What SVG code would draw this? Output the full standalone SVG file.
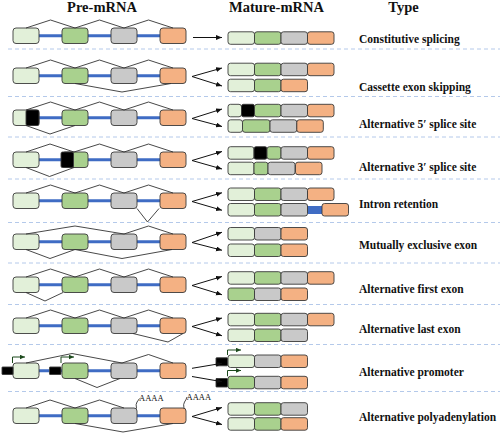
<svg xmlns="http://www.w3.org/2000/svg" width="500" height="433" viewBox="0 0 500 433">
<style>
rect{stroke:#3a3a3a;stroke-width:0.9}
.a{fill:#e2f0d9}.b{fill:#a9d18e}.c{fill:#c9c9c9}.d{fill:#f4b183}.k{fill:#000}.i{fill:#3f6cc4;stroke:none}
.ln{stroke:#3f6cc4;stroke-width:3}
.sp{fill:none;stroke:#333;stroke-width:0.9;stroke-linejoin:miter}
.sep{stroke:#b4c9ea;stroke-width:1;stroke-dasharray:4 3}
.ar{fill:none;stroke:#111;stroke-width:1;marker-end:url(#ah)}
.pr{fill:none;stroke:#1d4a1d;stroke-width:1;marker-end:url(#gh)}
.h{font-family:"Liberation Serif",serif;font-weight:bold;font-size:14.5px;text-anchor:middle;fill:#111}
.t{font-family:"Liberation Serif",serif;font-weight:bold;font-size:11.5px;fill:#111}
.pa{font-family:"Liberation Serif",serif;font-size:8.5px;fill:#111}
</style>
<defs>
<marker id="ah" markerUnits="userSpaceOnUse" markerWidth="7" markerHeight="6" refX="6" refY="2.5" orient="auto"><path d="M0,0 L6,2.5 L0,5 z" fill="#111"/></marker>
<marker id="gh" markerUnits="userSpaceOnUse" markerWidth="7" markerHeight="6" refX="5" refY="2.25" orient="auto"><path d="M0,0 L5,2.25 L0,4.5 z" fill="#1d4a1d"/></marker>
<symbol id="pre" overflow="visible">
<line class="ln" x1="39" y1="7.75" x2="160" y2="7.75"/>
<rect class="a" x="13" y="0" width="26" height="15.5" rx="3"/>
<rect class="b" x="62" y="0" width="26" height="15.5" rx="3"/>
<rect class="c" x="111" y="0" width="26" height="15.5" rx="3"/>
<rect class="d" x="160" y="0" width="26" height="15.5" rx="3"/>
</symbol>
</defs>
<g id="headers">
<text class="h" x="102" y="12">Pre-mRNA</text>
<text class="h" x="276.5" y="12">Mature-mRNA</text>
<text class="h" x="403.5" y="12">Type</text>
</g>
<g id="separators">
<line class="sep" x1="8" y1="49" x2="500" y2="49"/>
<line class="sep" x1="8" y1="96.5" x2="500" y2="96.5"/>
<line class="sep" x1="8" y1="137" x2="500" y2="137"/>
<line class="sep" x1="8" y1="179" x2="500" y2="179"/>
<line class="sep" x1="8" y1="222.5" x2="500" y2="222.5"/>
<line class="sep" x1="8" y1="263" x2="500" y2="263"/>
<line class="sep" x1="8" y1="304.5" x2="500" y2="304.5"/>
<line class="sep" x1="8" y1="344.5" x2="500" y2="344.5"/>
<line class="sep" x1="8" y1="391.5" x2="500" y2="391.5"/>
</g>

<g id="row1">
<use href="#pre" x="0" y="28"/>
<path class="sp" d="M26,28 L50.5,20 L75,28 L99.5,20 L124,28 L148.5,20 L173,28"/>
<rect class="a" x="228" y="31.8" width="26.5" height="12.5" rx="2.5"/><rect class="b" x="254.5" y="31.8" width="26.5" height="12.5" rx="2.5"/><rect class="c" x="281" y="31.8" width="26.5" height="12.5" rx="2.5"/><rect class="d" x="307.5" y="31.8" width="26.5" height="12.5" rx="2.5"/>
<text class="t" x="359" y="42.7">Constitutive splicing</text>
</g>

<g id="row2">
<use href="#pre" x="0" y="68"/>
<path class="sp" d="M26,68 L50.5,60 L75,68 L99.5,60 L124,68 L148.5,60 L173,68 M75,83.5 L122,92 L171,83.5"/>
<rect class="a" x="228" y="63.2" width="26.5" height="12.5" rx="2.5"/><rect class="b" x="254.5" y="63.2" width="26.5" height="12.5" rx="2.5"/><rect class="c" x="281" y="63.2" width="26.5" height="12.5" rx="2.5"/><rect class="d" x="307.5" y="63.2" width="26.5" height="12.5" rx="2.5"/>
<rect class="a" x="228" y="79.2" width="26.5" height="12.5" rx="2.5"/><rect class="b" x="254.5" y="79.2" width="26.5" height="12.5" rx="2.5"/><rect class="d" x="281" y="79.2" width="26.5" height="12.5" rx="2.5"/>
<text class="t" x="359" y="90.7">Cassette exon skipping</text>
</g>

<g id="row3">
<use href="#pre" x="0" y="110"/>
<rect class="k" x="26" y="110" width="13" height="15.5" rx="1.5"/>
<path class="sp" d="M26,110 L50.5,102 L75,110 L99.5,102 L124,110 L148.5,102 L173,110 M26,125.5 L50,134 L75,125.5"/>
<rect class="a" x="228" y="104.3" width="13.5" height="12.5" rx="2.5"/><rect class="k" x="241.5" y="104.3" width="13" height="12.5" rx="2"/><rect class="b" x="254.5" y="104.3" width="26.5" height="12.5" rx="2.5"/><rect class="c" x="281" y="104.3" width="26.5" height="12.5" rx="2.5"/><rect class="d" x="307.5" y="104.3" width="26.5" height="12.5" rx="2.5"/>
<rect class="a" x="228" y="119.8" width="14.5" height="12.5" rx="2.5"/><rect class="b" x="242.5" y="119.8" width="27.5" height="12.5" rx="2.5"/><rect class="c" x="270" y="119.8" width="26.8" height="12.5" rx="2.5"/><rect class="d" x="296.8" y="119.8" width="26.5" height="12.5" rx="2.5"/>
<text class="t" x="359" y="128.3">Alternative 5′ splice site</text>
</g>

<g id="row4">
<use href="#pre" x="0" y="152"/>
<rect class="k" x="61" y="152" width="12.5" height="15.5" rx="1.5"/>
<path class="sp" d="M26,152 L50,144 L74,152 L99.5,144 L124,152 L148.5,144 L173,152 M26,167.5 L49.5,176.5 L74,167.5"/>
<rect class="a" x="228" y="146.7" width="26" height="12.5" rx="2.5"/><rect class="k" x="254" y="146.7" width="13" height="12.5" rx="2"/><rect class="b" x="267" y="146.7" width="14" height="12.5" rx="2.5"/><rect class="c" x="281" y="146.7" width="26.5" height="12.5" rx="2.5"/><rect class="d" x="307.5" y="146.7" width="26.5" height="12.5" rx="2.5"/>
<rect class="a" x="228" y="162.2" width="26" height="12.5" rx="2.5"/><rect class="b" x="254" y="162.2" width="14" height="12.5" rx="2.5"/><rect class="c" x="268" y="162.2" width="27" height="12.5" rx="2.5"/><rect class="d" x="295.5" y="162.2" width="26.5" height="12.5" rx="2.5"/>
<text class="t" x="359" y="171">Alternative 3′ splice site</text>
</g>

<g id="row5">
<use href="#pre" x="0" y="193"/>
<path class="sp" d="M26,193 L50.5,185 L75,193 L99.5,185 L124,193 L148.5,185 L173,193 M137,208.5 L147.5,222 L159,208.5"/>
<rect class="a" x="228" y="188" width="26.5" height="12.5" rx="2.5"/><rect class="b" x="254.5" y="188" width="26.5" height="12.5" rx="2.5"/><rect class="c" x="281" y="188" width="26.5" height="12.5" rx="2.5"/><rect class="d" x="307.5" y="188" width="26.5" height="12.5" rx="2.5"/>
<rect class="i" x="307" y="206" width="16" height="8"/>
<rect class="a" x="228" y="203.5" width="26.5" height="12.5" rx="2.5"/><rect class="b" x="254.5" y="203.5" width="26.5" height="12.5" rx="2.5"/><rect class="c" x="281" y="203.5" width="26.5" height="12.5" rx="2.5"/><rect class="d" x="322" y="203.5" width="26.5" height="12.5" rx="2.5"/>
<text class="t" x="359" y="208.3">Intron retention</text>
</g>

<g id="row6">
<use href="#pre" x="0" y="234"/>
<path class="sp" d="M26,234 L75,226 L124,234 L148.5,226 L173,234 M26,249.5 L50,258.5 L75,249.5 L122,258.5 L172,249.5"/>
<rect class="a" x="228" y="227.5" width="26.5" height="12.5" rx="2.5"/><rect class="c" x="254.5" y="227.5" width="26.5" height="12.5" rx="2.5"/><rect class="d" x="281" y="227.5" width="26.5" height="12.5" rx="2.5"/>
<rect class="a" x="228" y="244" width="26.5" height="12.5" rx="2.5"/><rect class="b" x="254.5" y="244" width="26.5" height="12.5" rx="2.5"/><rect class="d" x="281" y="244" width="26.5" height="12.5" rx="2.5"/>
<text class="t" x="359" y="249">Mutually exclusive exon</text>
</g>

<g id="row7">
<use href="#pre" x="0" y="277"/>
<path class="sp" d="M26,277 L50.5,269 L75,277 L99.5,269 L124,277 L148.5,269 L173,277 M26,292.5 L45,301 L63,292.5"/>
<rect class="a" x="228" y="271.7" width="26.5" height="12.5" rx="2.5"/><rect class="b" x="254.5" y="271.7" width="26.5" height="12.5" rx="2.5"/><rect class="c" x="281" y="271.7" width="26.5" height="12.5" rx="2.5"/><rect class="d" x="307.5" y="271.7" width="26.5" height="12.5" rx="2.5"/>
<rect class="b" x="228" y="288" width="26.5" height="12.5" rx="2.5"/><rect class="c" x="254.5" y="288" width="26.5" height="12.5" rx="2.5"/><rect class="d" x="281" y="288" width="26.5" height="12.5" rx="2.5"/>
<text class="t" x="359" y="293.3">Alternative first exon</text>
</g>

<g id="row8">
<use href="#pre" x="0" y="318"/>
<path class="sp" d="M26,318 L50.5,310 L75,318 L99.5,310 L124,318 L148.5,310 L173,318 M133,333.5 L168,342 L183,333.5"/>
<rect class="a" x="228" y="313.3" width="26.5" height="12.5" rx="2.5"/><rect class="b" x="254.5" y="313.3" width="26.5" height="12.5" rx="2.5"/><rect class="c" x="281" y="313.3" width="26.5" height="12.5" rx="2.5"/><rect class="d" x="307.5" y="313.3" width="26.5" height="12.5" rx="2.5"/>
<rect class="a" x="228" y="329" width="26.5" height="12.5" rx="2.5"/><rect class="b" x="254.5" y="329" width="26.5" height="12.5" rx="2.5"/><rect class="c" x="281" y="329" width="26.5" height="12.5" rx="2.5"/>
<text class="t" x="359" y="333.3">Alternative last exon</text>
</g>

<g id="row9">
<use href="#pre" x="0" y="363"/>
<rect class="k" x="2" y="367" width="11" height="7.5" rx="0.5"/>
<rect class="k" x="49.5" y="367" width="11.5" height="7.5" rx="0.5"/>
<path class="pr" d="M12.5,363 L12.5,357 L25,357"/>
<path class="pr" d="M61,363 L61,357 L74,357"/>
<path class="sp" d="M26,363 L72,353.5 L122,363 L148.5,354.5 L173,363 M75,378.5 L97,387.5 L120,378.5"/>
<rect class="k" x="216" y="357.8" width="11.5" height="8" rx="0.5"/>
<rect class="a" x="228" y="355" width="26.5" height="12.5" rx="2.5"/><rect class="c" x="254.5" y="355" width="26.5" height="12.5" rx="2.5"/><rect class="d" x="281" y="355" width="26.5" height="12.5" rx="2.5"/>
<path class="pr" d="M227.5,355 L227.5,350 L241,350"/>
<rect class="k" x="216" y="378.5" width="11.5" height="8.5" rx="0.5"/>
<rect class="b" x="228" y="376.3" width="26.5" height="12.5" rx="2.5"/><rect class="c" x="254.5" y="376.3" width="26.5" height="12.5" rx="2.5"/><rect class="d" x="281" y="376.3" width="26.5" height="12.5" rx="2.5"/>
<path class="pr" d="M227.5,376.3 L227.5,370.5 L241,370.5"/>
<text class="t" x="359" y="376">Alternative promoter</text>
</g>

<g id="row10">
<use href="#pre" x="0" y="408"/>
<path class="sp" d="M26,408 L50,400 L75,408 L99.5,400 L124,408 M75,423.5 L123,432 L173,423.5"/>
<path class="sp" d="M136.5,408.5 Q135.5,404 137,402 T139.5,398.5"/>
<path class="sp" d="M184,408.5 Q183,404 184.5,402 T187,397"/>
<text class="pa" x="139" y="401">AAAA</text>
<text class="pa" x="186.5" y="400">AAAA</text>
<rect class="a" x="228" y="402.7" width="26.5" height="12.5" rx="2.5"/><rect class="b" x="254.5" y="402.7" width="26.5" height="12.5" rx="2.5"/><rect class="c" x="281" y="402.7" width="26.5" height="12.5" rx="2.5"/>
<rect class="a" x="228" y="417.7" width="26.5" height="12.5" rx="2.5"/><rect class="b" x="254.5" y="417.7" width="26.5" height="12.5" rx="2.5"/><rect class="d" x="281" y="417.7" width="26.5" height="12.5" rx="2.5"/>
<text class="t" x="359" y="421">Alternative polyadenylation</text>
</g>

<g id="connectors">
<path class="ar" d="M193,37.5 L222,37.5"/>
<path class="ar" d="M192,76.5 L222,68"/><path class="ar" d="M192,76.5 L222,86"/>
<path class="ar" d="M192,118.5 L222,109"/><path class="ar" d="M192,118.5 L222,126.5"/>
<path class="ar" d="M192,160.5 L222,151.5"/><path class="ar" d="M192,160.5 L222,169"/>
<path class="ar" d="M192,201.5 L222,192.75"/><path class="ar" d="M192,201.5 L222,210.25"/>
<path class="ar" d="M192,242.5 L222,232.25"/><path class="ar" d="M192,242.5 L222,250.25"/>
<path class="ar" d="M192,285.5 L222,276.5"/><path class="ar" d="M192,285.5 L222,294.75"/>
<path class="ar" d="M192,326.5 L222,318"/><path class="ar" d="M192,326.5 L222,335.75"/>
<path class="ar" d="M192,368.3 L222,363.3"/><path class="ar" d="M192,376.5 L222,381.7"/>
<path class="ar" d="M192,416.5 L222,407.5"/><path class="ar" d="M192,416.5 L222,424.5"/>
</g>
</svg>
